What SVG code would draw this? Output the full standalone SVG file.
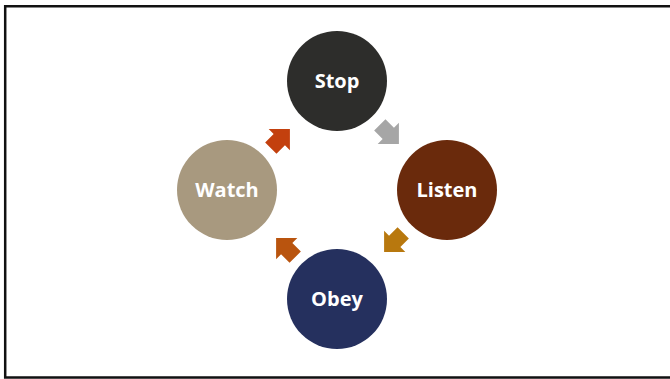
<svg xmlns="http://www.w3.org/2000/svg" width="670" height="379" viewBox="0 0 670 379">
<style>
.lbl{font-family:"Open Sans","Noto Sans","Liberation Sans",sans-serif;font-weight:bold;font-size:20px;fill:#ffffff;text-anchor:middle}
.frame{stroke:#111;stroke-width:2.5;fill:none}
</style>
<defs>
<path id="arr" d="M-13,-8 L-1,-8 L-1,-15 L14,0 L-1,15 L-1,8 L-13,8 Z"/>
</defs>
<rect width="670" height="379" fill="#ffffff"/>
<path class="frame" d="M670,6.2 L5.2,6.2 L5.2,377.5 L670,377.5"/>
<g id="connectors">
<use href="#arr" fill="#c3400e" transform="translate(280,139) rotate(-45)"/>
<use href="#arr" fill="#a6a6a6" transform="translate(389,134) rotate(45)"/>
<use href="#arr" fill="#b8780e" transform="translate(394,242) rotate(135)"/>
<use href="#arr" fill="#b9540e" transform="translate(286,248) rotate(-135)"/>
</g>
<g id="stop"><circle cx="337" cy="81" r="50" fill="#2d2d2b"/><text class="lbl" x="337" y="88">Stop</text></g>
<g id="listen"><circle cx="447" cy="190" r="50" fill="#6a2a0c"/><text class="lbl" x="447" y="197">Listen</text></g>
<g id="obey"><circle cx="337" cy="299" r="50" fill="#25305e"/><text class="lbl" x="337" y="306">Obey</text></g>
<g id="watch"><circle cx="227" cy="190" r="50" fill="#a8997f"/><text class="lbl" x="227" y="197">Watch</text></g>
</svg>
